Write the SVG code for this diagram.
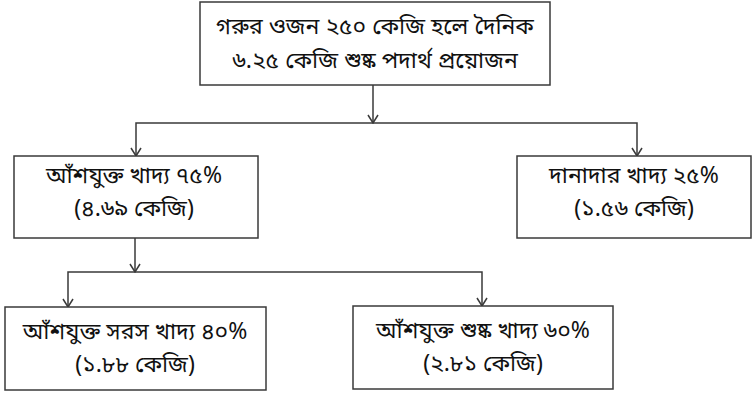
<svg xmlns="http://www.w3.org/2000/svg" width="753" height="396" viewBox="0 0 753 396">
<style>
.box{fill:#fff;stroke:#3a3a3a;stroke-width:1.5}
.t{font-family:"Noto Sans Bengali","Noto Serif Bengali","Lohit Bengali","Noto Sans","DejaVu Sans",sans-serif;font-size:23px;fill:#111;text-anchor:middle}
.c{fill:none;stroke:#3a3a3a;stroke-width:1.5}
</style>
<defs>
<marker id="arr" viewBox="0 0 12 12" refX="11" refY="6" markerWidth="12" markerHeight="12" markerUnits="userSpaceOnUse" orient="auto">
<polyline points="3,1 11,6 3,11" fill="none" stroke="#3a3a3a" stroke-width="1.5"/>
</marker>
</defs>
<rect width="753" height="396" fill="#fff"/>
<g id="connectors">
<line class="c" x1="373" y1="85" x2="373" y2="123" marker-end="url(#arr)"/>
<polyline class="c" points="373,123 136,123 136,156" marker-end="url(#arr)"/>
<polyline class="c" points="373,123 637,123 637,156" marker-end="url(#arr)"/>
<line class="c" x1="135" y1="238" x2="135" y2="272" marker-end="url(#arr)"/>
<polyline class="c" points="135,272 68,272 68,307" marker-end="url(#arr)"/>
<polyline class="c" points="135,272 482,272 482,306" marker-end="url(#arr)"/>
</g>
<g id="n-top">
<rect class="box" x="200" y="2" width="350" height="83"/>
<text class="t" x="375" y="34">গরুর ওজন ২৫০ কেজি হলে দৈনিক</text>
<text class="t" x="375" y="68">৬.২৫ কেজি শুষ্ক পদার্থ প্রয়োজন</text>
</g>
<g id="n-fiber">
<rect class="box" x="14" y="156" width="244" height="82"/>
<text class="t" x="134" y="183">আঁশযুক্ত খাদ্য ৭৫%</text>
<text class="t" x="134" y="216">(৪.৬৯ কেজি)</text>
</g>
<g id="n-grain">
<rect class="box" x="517" y="156" width="234" height="82"/>
<text class="t" x="634" y="183">দানাদার খাদ্য ২৫%</text>
<text class="t" x="634" y="216">(১.৫৬ কেজি)</text>
</g>
<g id="n-juicy">
<rect class="box" x="5" y="307" width="261" height="83"/>
<text class="t" x="135" y="339">আঁশযুক্ত সরস খাদ্য ৪০%</text>
<text class="t" x="135" y="372">(১.৮৮ কেজি)</text>
</g>
<g id="n-dry">
<rect class="box" x="353" y="306" width="260" height="83"/>
<text class="t" x="483" y="338">আঁশযুক্ত শুষ্ক খাদ্য ৬০%</text>
<text class="t" x="483" y="371">(২.৮১ কেজি)</text>
</g>
</svg>
